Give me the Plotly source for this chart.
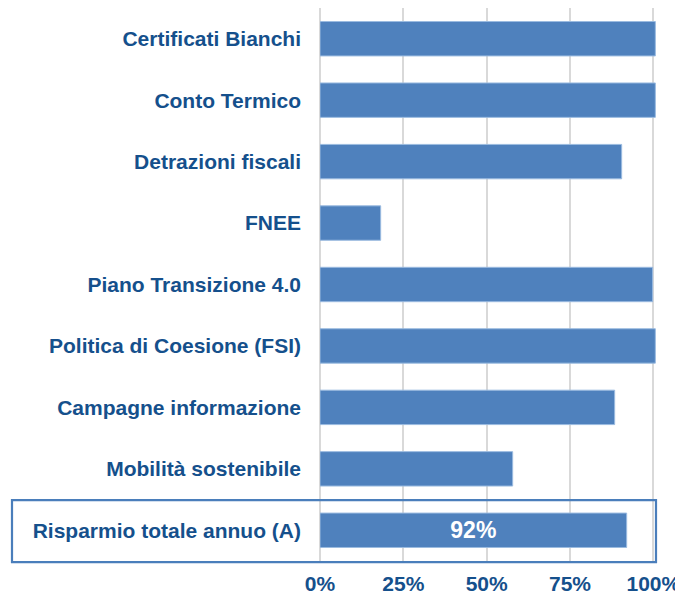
import plotly.graph_objects as go

categories = [
    "Certificati Bianchi",
    "Conto Termico",
    "Detrazioni fiscali",
    "FNEE",
    "Piano Transizione 4.0",
    "Politica di Coesione (FSI)",
    "Campagne informazione",
    "Mobilità sostenibile",
    "Risparmio totale annuo (A)",
]
values = [100.6, 100.6, 90.5, 18.2, 99.8, 100.6, 88.4, 57.8, 92.0]
bar_labels = ["", "", "", "", "", "", "", "", "92%"]
tick_vals = [0, 25, 50, 75, 100]
tick_text = ["0%", "25%", "50%", "75%", "100%"]

# the page body has an 8px margin, so the figure is sized to fit the window
W, H = 675, 589
ml, mr, mt, mb = 312, 27, 0, 36

fig = go.Figure(
    go.Bar(
        x=values,
        y=categories,
        orientation="h",
        marker=dict(color="#4f81bd", line=dict(color="#9bbbe0", width=1)),
        width=0.56,
        text=bar_labels,
        textposition="inside",
        insidetextanchor="middle",
        textfont=dict(color="white", size=23, family="Liberation Sans, Arial", weight="bold"),
        hoverinfo="skip",
    )
)

blue_text = "#15508c"
fig.update_layout(
    width=W,
    height=H,
    margin=dict(l=ml, r=mr, t=mt, b=mb, pad=0),
    plot_bgcolor="white",
    paper_bgcolor="white",
    showlegend=False,
    font=dict(family="Liberation Sans, Arial", color=blue_text),
    xaxis=dict(
        range=[0, 100.8],
        tickvals=tick_vals,
        ticktext=tick_text,
        showgrid=True,
        gridcolor="#d9d9d9",
        gridwidth=1.5,
        zeroline=True,
        zerolinecolor="#d9d9d9",
        zerolinewidth=1.5,
        showline=False,
        tickfont=dict(size=21, color=blue_text, weight="bold"),
        ticks="",
        ticklabelstandoff=8,
        automargin=False,
        fixedrange=True,
    ),
    yaxis=dict(
        autorange="reversed",
        showgrid=False,
        showline=False,
        ticks="",
        ticklabelstandoff=18,
        tickfont=dict(size=21, color=blue_text, weight="bold"),
        automargin=False,
        fixedrange=True,
    ),
)

plot_w = W - ml - mr
n = len(categories)
fig.add_shape(
    type="rect",
    xref="paper",
    yref="paper",
    x0=(4 - ml) / plot_w,
    x1=1.0,
    y0=-0.002,
    y1=1.0 / n - 0.001,
    line=dict(color="#4a7ebb", width=2.2),
    fillcolor="rgba(0,0,0,0)",
    layer="above",
)

fig.write_html("out.html")
